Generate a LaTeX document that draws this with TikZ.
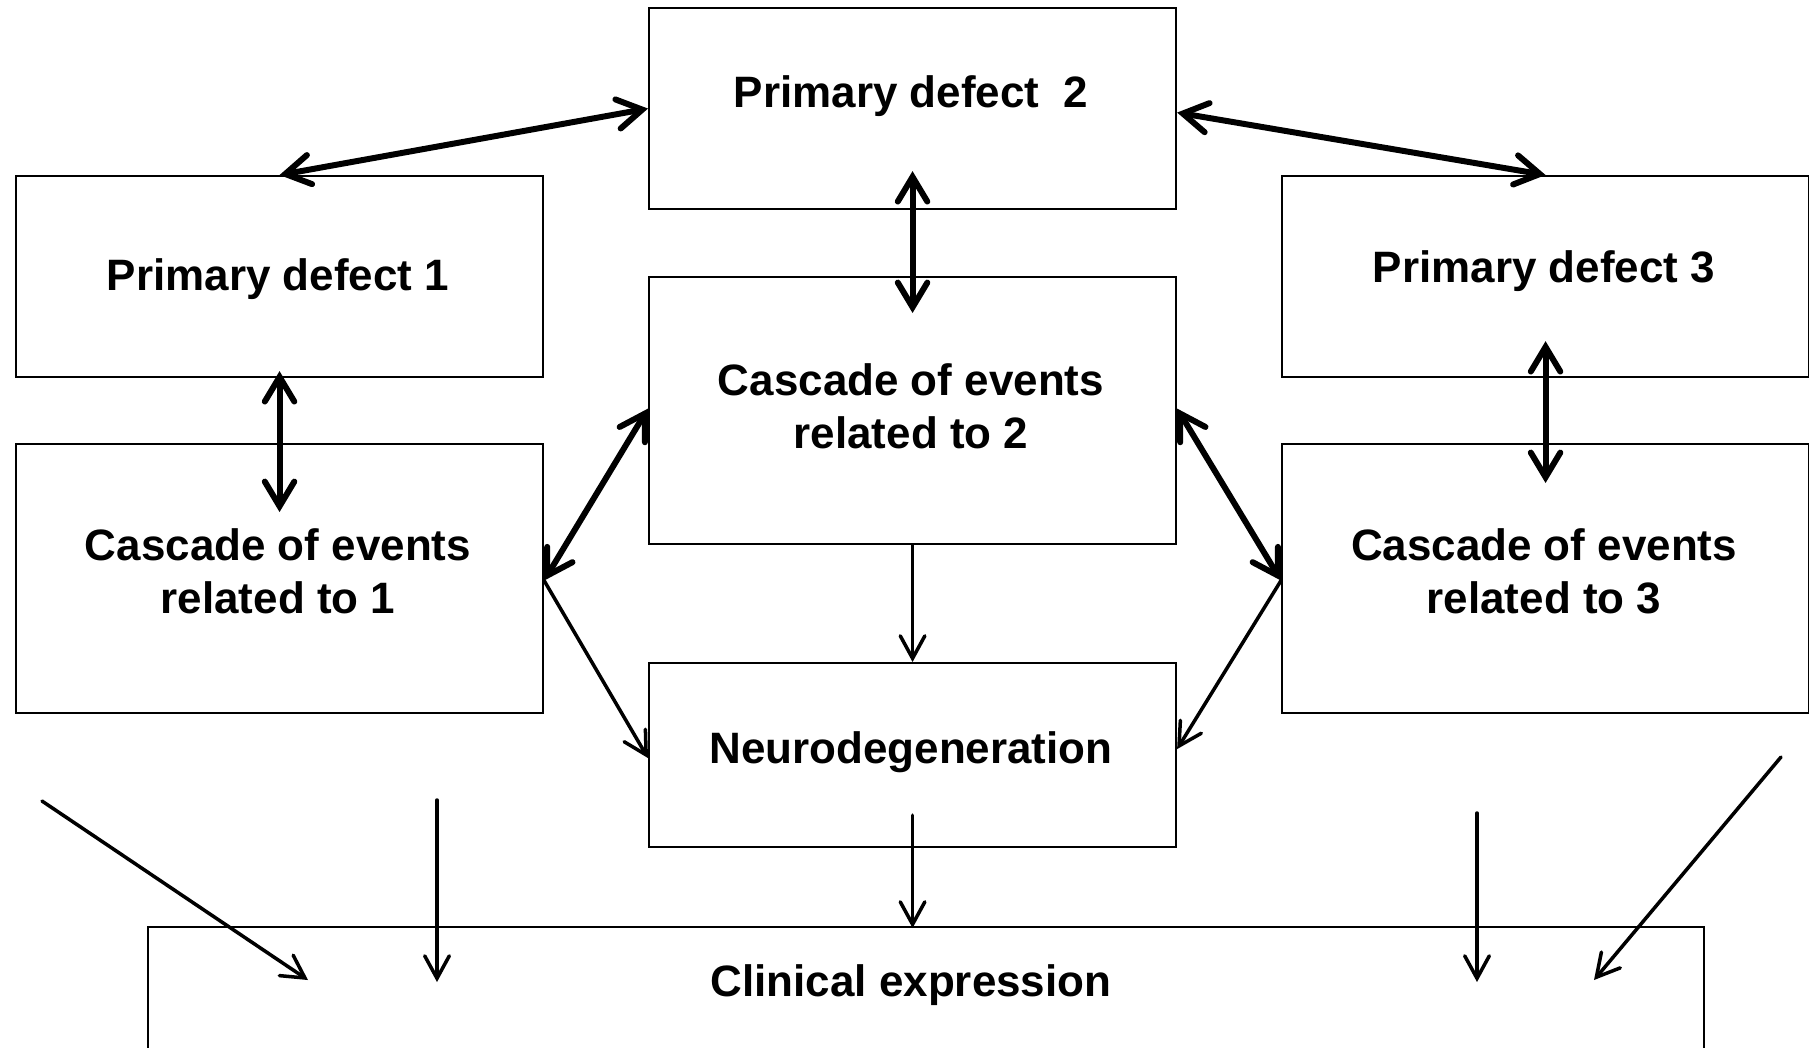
\documentclass[tikz,border=0pt]{standalone}
\usepackage{fontspec}
\setmainfont{Liberation Sans}
\usetikzlibrary{arrows.meta,calc}

\begin{document}
\begin{tikzpicture}[
  x=0.01cm, y=-0.01cm,
  box/.style={draw, line width=0.6pt, rectangle, inner sep=0pt, anchor=north west},
  lbl/.style={font=\bfseries\fontsize{12.5}{15.1}\selectfont, align=center, inner sep=0pt},
  thick arrow/.style={line width=1.7pt, line cap=round,
    arrows={Straight Barb[length=7pt, width=8.4pt, line cap=round]-Straight Barb[length=7pt, width=8.4pt, line cap=round]}},
  thin arrow/.style={line width=1pt, line cap=round,
    -{Straight Barb[length=6.4pt, width=7pt, line cap=round]}},
]
\useasboundingbox (0,0) rectangle (1809,1047);

% boxes (pixel-based placement, y downwards)
\node[box, minimum width=527*0.01cm, minimum height=201*0.01cm] (pd2) at (648,7) {};
\node[box, minimum width=527*0.01cm, minimum height=201*0.01cm] (pd1) at (15,175) {};
\node[box, minimum width=527*0.01cm, minimum height=201*0.01cm] (pd3) at (1281,175) {};
\node[box, minimum width=527*0.01cm, minimum height=267*0.01cm] (c2) at (648,276) {};
\node[box, minimum width=527*0.01cm, minimum height=269*0.01cm] (c1) at (15,443) {};
\node[box, minimum width=527*0.01cm, minimum height=269*0.01cm] (c3) at (1281,443) {};
\node[box, minimum width=527*0.01cm, minimum height=184*0.01cm] (neuro) at (648,662) {};
\node[box, minimum width=1556*0.01cm, minimum height=125*0.01cm] (clin) at (147,926) {};

% labels
\node[lbl] (tpd2) at (911,96) {Primary defect\ \ 2};
\node[lbl] (tpd1) at (278,279) {Primary defect 1};
\node[lbl] (tpd3) at (1544,271) {Primary defect 3};
\node[lbl] (tc2) at (911,406) {Cascade of events\\related to 2};
\node[lbl] (tc1) at (278,571) {Cascade of events\\related to 1};
\node[lbl] (tc3) at (1544,571) {Cascade of events\\related to 3};
\node[lbl] (tneuro) at (911,752) {Neurodegeneration};
\node[lbl] (tclin) at (911,985) {Clinical expression};

% two-way links between the primary defects and their cascades
\draw[thick arrow] (pd1.north) -- (pd2.west);
\draw[thick arrow] ($(pd2.east)+(0,4)$) -- (pd3.north);
\draw[thick arrow] ($(pd2.south)+(0,-39)$) -- ($(c2.north)+(0,37)$);
\draw[thick arrow] ($(pd1.south)+(0,-7)$) -- ($(c1.north)+(0,69)$);
\draw[thick arrow] ($(pd3.south)+(0,-37)$) -- ($(c3.north)+(0,40)$);
\draw[thick arrow] ($(c1.east)+(0,2)$) -- ($(c2.west)+(0,-2)$);
\draw[thick arrow] ($(c2.east)+(0,-2)$) -- ($(c3.west)+(0,2)$);

% one-way links towards neurodegeneration and clinical expression
\draw[thin arrow] ($(c1.east)+(0,2)$) -- ($(neuro.west)+(0,3)$);
\draw[thin arrow] ($(c3.west)+(0,2)$) -- ($(neuro.east)+(0,-6)$);
\draw[thin arrow] (c2.south) -- (neuro.north);
\draw[thin arrow] ($(neuro.south)+(0,-33)$) -- ($(neuro.south |- clin.north)+(0,2)$);

% outer inputs to clinical expression
\coordinate (a1s) at (42,801);
\coordinate (a1e) at (308,980);
\coordinate (a2s) at (437,800);
\coordinate (a2e) at (437,982);
\coordinate (a3s) at (1477,813);
\coordinate (a3e) at (1477,982);
\coordinate (a4s) at (1781,757);
\coordinate (a4e) at (1594,980);
\draw[thin arrow] (a1s) -- (a1e);
\draw[thin arrow] (a2s) -- (a2e);
\draw[thin arrow] (a3s) -- (a3e);
\draw[thin arrow] (a4s) -- (a4e);
\end{tikzpicture}
\end{document}
